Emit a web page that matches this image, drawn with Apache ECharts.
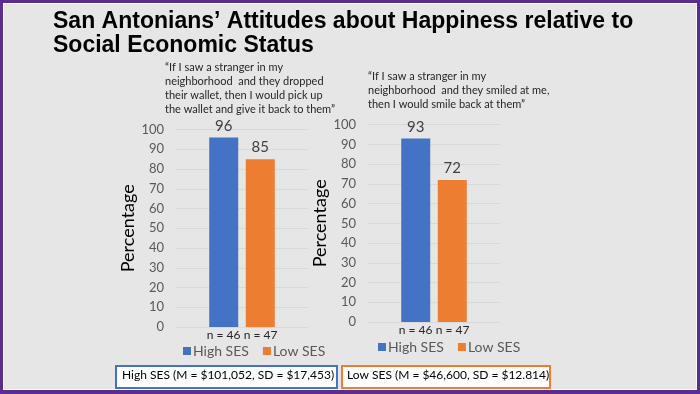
<!DOCTYPE html>
<html>
<head>
<meta charset="utf-8">
<script src="https://cdn.jsdelivr.net/npm/echarts@6/dist/echarts.min.js"></script>
<style>
html,body{margin:0;padding:0;background:#e7e6e6;}
#main{width:700px;height:394px;}
</style>
</head>
<body>
<div id="main"></div>
<script>
const titleLines = ['San Antonians\u2019 Attitudes about Happiness relative to', 'Social Economic Status'];
const seriesNames = ['High SES', 'Low SES'];
const walletValues = [96, 85];
const smileValues = [93, 72];
const nLabels = ['n = 46', 'n = 47'];
const walletQuote = ['\u201CIf I saw a stranger in my', 'neighborhood  and they dropped', 'their wallet, then I would pick up', 'the wallet and give it back to them\u201D'];
const smileQuote = ['\u201CIf I saw a stranger in my', 'neighborhood  and they smiled at me,', 'then I would smile back at them\u201D'];
const boxTexts = ['High SES (M = $101,052, SD = $17,453)', 'Low SES (M = $46,600, SD = $12.814)'];
const yMin = 0, yMax = 100, yInterval = 10;
const yAxisTitle = 'Percentage';

const colors = ['#4472c4', '#ed7d31'];
const FONT = 'Lato';
const chart = echarts.init(document.getElementById('main'), null, {renderer: 'canvas'});

function xAxisCfg(idx) {
  return {
    type: 'category', gridIndex: idx, data: ['q' + idx],
    axisLine: {show: false}, axisTick: {show: false},
    axisLabel: {
      margin: 2,
      formatter: function () { return '{a|' + nLabels[0] + '}{b|' + nLabels[1] + '}'; },
      rich: {
        a: {width: 37, align: 'center', fontSize: 12, fontFamily: FONT, color: '#262626'},
        b: {width: 37, align: 'center', fontSize: 12, fontFamily: FONT, color: '#262626'}
      }
    }
  };
}
function yAxisCfg(idx, gap) {
  return {
    type: 'value', gridIndex: idx, min: yMin, max: yMax, interval: yInterval,
    name: yAxisTitle, nameLocation: 'middle', nameRotate: 90, nameGap: gap,
    nameTextStyle: {fontSize: 18, fontFamily: FONT, color: '#000'},
    axisLine: {show: false}, axisTick: {show: false},
    axisLabel: {margin: 12, fontSize: 13, fontFamily: FONT, color: '#595959'},
    splitLine: {lineStyle: {color: '#d9d9d9', width: 1}}
  };
}
function barSeries(name, value, idx, colorIdx) {
  return {
    type: 'bar', name: name, xAxisIndex: idx, yAxisIndex: idx,
    data: [value], barWidth: 29, barGap: '26%',
    itemStyle: {color: colors[colorIdx]},
    label: {show: true, position: 'top', distance: 4, fontSize: 15, fontFamily: FONT, color: '#404040'}
  };
}
function legendCfg(left, top) {
  return {
    data: seriesNames, left: left, top: top, padding: 0, icon: 'rect', itemWidth: 8, itemHeight: 8, itemGap: 14,
    selectedMode: false,
    textStyle: {fontSize: 14, fontFamily: FONT, color: '#595959', padding: [0, 0, 0, -3]}
  };
}
function textLines(lines, x, y, lh, size, family, weight, color) {
  return lines.map(function (t, i) {
    return {type: 'text', left: x, top: y + i * lh, silent: true,
      style: {text: t, font: weight + ' ' + size + 'px "' + family + '"', fill: color}};
  });
}

const graphics = [
  {type: 'rect', left: 0, top: 0, shape: {x: 0, y: 0, width: 700, height: 394}, style: {fill: '#5c2d91'}, z: -10},
  {type: 'rect', left: 3, top: 3, shape: {x: 0, y: 0, width: 694, height: 387}, style: {fill: '#ffffff'}, z: -9},
  {type: 'rect', left: 4, top: 4, shape: {x: 0, y: 0, width: 692, height: 385}, style: {fill: '#e7e6e6'}, z: -8},
  {type: 'rect', left: 115, top: 365, shape: {x: 0, y: 0, width: 221, height: 22}, style: {fill: '#fff', stroke: colors[0], lineWidth: 2}},
  {type: 'rect', left: 341, top: 365, shape: {x: 0, y: 0, width: 208, height: 22}, style: {fill: '#fff', stroke: colors[1], lineWidth: 2}},
  {type: 'text', left: 122, top: 369, style: {text: boxTexts[0], font: '12px "' + FONT + '"', fill: '#000'}},
  {type: 'text', left: 347, top: 369, style: {text: boxTexts[1], font: '12px "' + FONT + '"', fill: '#000'}}
].concat(
  textLines(titleLines, 53, 10, 24.5, 23, 'Liberation Sans', 'bold', '#000'),
  textLines(walletQuote, 165, 62, 14, 11, FONT, 'normal', '#262626'),
  textLines(smileQuote, 368, 71, 14, 11, FONT, 'normal', '#262626')
);

chart.setOption({
  animation: false,
  backgroundColor: 'transparent',
  grid: [
    {left: 176, width: 132, top: 129.5, bottom: 67},
    {left: 368, width: 132, top: 124.7, bottom: 72}
  ],
  xAxis: [xAxisCfg(0), xAxisCfg(1)],
  yAxis: [yAxisCfg(0, 39), yAxisCfg(1, 36)],
  legend: [legendCfg(183, 344), legendCfg(378, 340)],
  series: [
    barSeries(seriesNames[0], walletValues[0], 0, 0),
    barSeries(seriesNames[1], walletValues[1], 0, 1),
    barSeries(seriesNames[0], smileValues[0], 1, 0),
    barSeries(seriesNames[1], smileValues[1], 1, 1)
  ],
  graphic: graphics
});
</script>
</body>
</html>
